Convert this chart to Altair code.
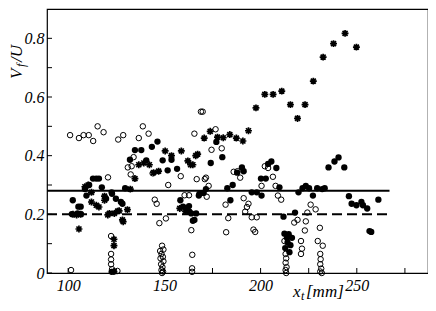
import altair as alt
import pandas as pd

# ---- data ----
open_x = [101, 105.6, 108, 110.7, 113, 115.3, 118.4, 126, 128.6, 136.7, 138.8, 141.8, 134, 165.6, 169, 174.5, 176.6,
          143.9, 152, 158.5, 171, 145, 160.5, 162.8,
          120.7, 131, 132.5, 146, 147.4, 150.8, 164, 164.5, 164.4, 164.4, 166.8, 172, 173,
          122.3, 122.3, 122.3, 122.3, 122.8, 125.6, 101.5,
          148.8, 149.5, 147.8, 148.5, 149.2, 148, 149.5, 148.3, 149, 148.5, 149.3, 148.8,
          186, 188, 189.4, 181.8, 183.2, 182.1, 191.2, 193.7, 192.9, 192, 195.4, 198, 196.3, 197.2,
          200.5, 203.9, 206.4, 207.8, 209, 210.7, 217.5, 219.2, 223.5, 224.3, 226, 228.6, 223, 230.8,
          212.4, 221, 221.5, 221, 229.7, 231, 231.2, 231, 231.5, 231, 231.8,
          213, 213.3, 213, 213.5, 213, 213.3, 232.3, 179.8, 171.6, 202.2, 169.9, 133]
open_y = [0.47, 0.46, 0.47, 0.47, 0.45, 0.50, 0.48, 0.455, 0.47, 0.46, 0.50, 0.475, 0.395, 0.475, 0.55, 0.42, 0.49,
          0.34, 0.30, 0.33, 0.32, 0.25, 0.265, 0.265,
          0.326, 0.36, 0.336, 0.236, 0.17, 0.186, 0.146, 0.062, 0.016, 0.004, 0.32, 0.26, 0.297,
          0.126, 0.065, 0.046, 0.03, 0.013, 0.007, 0.01,
          0.093, 0.08, 0.075, 0.065, 0.055, 0.05, 0.04, 0.03, 0.02, 0.01, 0.005, 0.0,
          0.345, 0.347, 0.325, 0.233, 0.187, 0.139, 0.255, 0.236, 0.225, 0.209, 0.19, 0.19, 0.148, 0.14,
          0.297, 0.358, 0.328, 0.297, 0.264, 0.25, 0.172, 0.181, 0.176, 0.206, 0.233, 0.217, 0.145, 0.154,
          0.109, 0.109, 0.083, 0.065, 0.109, 0.065, 0.047, 0.03, 0.015, 0.005, 0.0,
          0.065, 0.05, 0.035, 0.02, 0.01, 0.0, 0.093, 0.425, 0.325, 0.364, 0.55, 0.364]

filled_x = [102.4, 105.3, 106.5, 101.9, 104.9, 106.6, 108.7, 110.9, 109.5, 112.9, 114.6, 116, 117.5, 119.7, 122.8,
            124.8, 128.2, 129.6, 127.4, 122.6, 132.1, 134.7, 138, 143.5, 146.4, 140.6, 149.1, 151.7, 153.7,
            156.6, 158.3, 162.8, 164, 164.8, 166.5, 167.9, 170.4, 174.1, 168.2, 122.6,
            159.7, 161.4, 163, 165.6,
            177, 180.1, 187.8, 190.3, 191.2, 200.2, 203.9, 205.6, 185.5, 182.7, 171.6, 195.4, 198, 200.5,
            184.3, 209.8, 202.7, 208.2, 211.9, 217.9, 219.7, 221.8, 223.5, 225.2, 227.2, 229.4, 232, 233.3,
            235.3, 238.4, 240.5, 243.5, 245.9, 247.3, 249.8, 252.4, 253.2, 255.4, 261.2, 256.6, 257.5,
            212.4, 214.6, 216.3, 213.7, 214, 215.5, 215, 212.8]
filled_y = [0.248, 0.226, 0.226, 0.201, 0.203, 0.201, 0.286, 0.30, 0.264, 0.322, 0.322, 0.322, 0.292, 0.253, 0.27,
            0.253, 0.236, 0.289, 0.242, 0.275, 0.386, 0.419, 0.419, 0.43, 0.448, 0.384, 0.384, 0.35, 0.386,
            0.355, 0.248, 0.228, 0.203, 0.178, 0.203, 0.264, 0.273, 0.375, 0.27, 0.004,
            0.226, 0.22, 0.209, 0.181,
            0.447, 0.395, 0.342, 0.36, 0.347, 0.322, 0.372, 0.38, 0.30, 0.289, 0.286, 0.275, 0.275, 0.264,
            0.248, 0.292, 0.322, 0.358, 0.192, 0.206, 0.275, 0.289, 0.297, 0.289, 0.264, 0.289, 0.286, 0.289,
            0.36, 0.38, 0.394, 0.36, 0.262, 0.236, 0.231, 0.242, 0.231, 0.22, 0.25, 0.143, 0.14,
            0.134, 0.132, 0.12, 0.12, 0.104, 0.095, 0.071, 0.085]

star_x = [243.9, 237.9, 249.8, 232.5, 227.4, 202.2, 206.5, 211, 197.6, 215.5, 223.1, 219.2, 193.7, 173.8, 177.6,
          180.6, 184, 187.4, 190.8, 170.7, 167.3, 162.2, 164.8, 150.4, 153.7, 158.8, 136.7, 139.3, 142.2, 144.4,
          147, 134.7, 132.3, 104.4, 102.5, 106.5, 105.6, 108.7, 110.4, 112.1, 112.1, 114.6, 116, 118.9, 118.9,
          120.6, 121.4, 124, 125.7, 126.5, 128.2, 128.6, 130.8, 123.8, 123.8, 158, 161, 163.6, 166.3, 123.8]
star_y = [0.817, 0.782, 0.77, 0.736, 0.654, 0.609, 0.609, 0.62, 0.563, 0.574, 0.574, 0.527, 0.485, 0.483, 0.463,
          0.461, 0.472, 0.46, 0.45, 0.46, 0.405, 0.382, 0.369, 0.416, 0.40, 0.416, 0.369, 0.375, 0.369, 0.342,
          0.347, 0.322, 0.286, 0.198, 0.20, 0.20, 0.15, 0.294, 0.30, 0.275, 0.242, 0.231, 0.225, 0.262, 0.248,
          0.198, 0.203, 0.203, 0.211, 0.212, 0.181, 0.175, 0.216, 0.115, 0.093, 0.22, 0.21, 0.369, 0.40, 0.005]

ref_levels = [0.28, 0.20]
ref_styles = ["solid", "dashed"]
ref_x_start, ref_x_end = 89, 267

x_ticks_major = [100, 150, 200, 250]
x_ticks_all = [100, 125, 150, 175, 200, 225, 250, 275]
y_ticks_major = [0, 0.2, 0.4, 0.6, 0.8]
y_ticks_all = [0, 0.1, 0.2, 0.3, 0.4, 0.5, 0.6, 0.7, 0.8]

X_DOMAIN = [89, 287]
Y_DOMAIN = [0, 0.9]
W, H = 381, 264
FONT = "Times New Roman"

xs = alt.Scale(domain=X_DOMAIN, nice=False, zero=False)
ys = alt.Scale(domain=Y_DOMAIN, nice=False, zero=False)

x_axis = alt.Axis(values=x_ticks_major, ticks=False, domain=False, grid=False, title=None,
                  labelFont=FONT, labelFontStyle="italic", labelFontSize=16, labelColor="black", labelPadding=4)
y_axis = alt.Axis(values=y_ticks_major, ticks=False, domain=False, grid=False, title=None,
                  labelFont=FONT, labelFontStyle="italic", labelFontSize=16, labelColor="black", labelPadding=3,
                  labelExpr="datum.value == 0 ? '0' : format(datum.value, '.1f')")

df_open = pd.DataFrame({"x": open_x, "y": open_y})
df_filled = pd.DataFrame({"x": filled_x, "y": filled_y})
df_star = pd.DataFrame({"x": star_x, "y": star_y})

base_enc = dict(x=alt.X("x:Q", scale=xs, axis=x_axis), y=alt.Y("y:Q", scale=ys, axis=y_axis))

open_layer = alt.Chart(df_open).mark_point(shape="circle", filled=False, stroke="black", strokeWidth=1,
                                           size=30, opacity=1).encode(**base_enc)
filled_layer = alt.Chart(df_filled).mark_point(shape="circle", filled=True, fill="black", size=40,
                                               opacity=1).encode(**base_enc)
ASTER = "M-1,0L1,0M0,-1L0,1M-0.72,-0.72L0.72,0.72M-0.72,0.72L0.72,-0.72"
star_layer = alt.Chart(df_star).mark_point(shape=ASTER, filled=False, stroke="black", strokeWidth=1.7,
                                           size=48, opacity=1).encode(**base_enc)

df_ref = pd.DataFrame({"y": ref_levels, "style": ref_styles,
                       "x": [ref_x_start] * 2, "x2": [ref_x_end] * 2})
solid_line = alt.Chart(df_ref[df_ref["style"] == "solid"]).mark_rule(color="black", strokeWidth=2).encode(
    x=alt.X("x:Q", scale=xs), x2="x2:Q", y=alt.Y("y:Q", scale=ys))
dashed_line = alt.Chart(df_ref[df_ref["style"] == "dashed"]).mark_rule(
    color="black", strokeWidth=2, strokeDash=[10, 5]).encode(
    x=alt.X("x:Q", scale=xs), x2="x2:Q", y=alt.Y("y:Q", scale=ys))

xt = alt.Chart(pd.DataFrame({"t": x_ticks_all})).mark_rule(color="black", strokeWidth=1).encode(
    x=alt.X("t:Q", scale=xs), y=alt.value(H), y2=alt.value(H - 5))
yt = alt.Chart(pd.DataFrame({"t": y_ticks_all})).mark_rule(color="black", strokeWidth=1).encode(
    y=alt.Y("t:Q", scale=ys), x=alt.value(0), x2=alt.value(5))

def txt(text, x, y, size, angle=0, baseline="alphabetic"):
    kw = dict(text=text, font=FONT, fontStyle="italic", fontSize=size, color="black",
              align="left", baseline=baseline)
    if angle:
        kw["angle"] = angle
    return alt.Chart(pd.DataFrame({"d": [0]})).mark_text(**kw).encode(x=alt.value(x), y=alt.value(y))

titles = [
    txt("V", -25, 70, 17, angle=270),
    txt("f", -22, 58, 12, angle=270),
    txt("/U", -25, 53, 17, angle=270),
    txt("x", 246, 288, 17),
    txt("t", 254, 291, 12),
    txt("[mm]", 259, 288, 17),
]

chart = alt.layer(solid_line, dashed_line, xt, yt, open_layer, filled_layer, star_layer, *titles).properties(
    width=W, height=H,
    autosize=alt.AutoSizeParams(type="none"),
    padding={"left": 39, "top": 1, "right": 0, "bottom": 30},
).configure_view(stroke="black", strokeWidth=1.2)

chart.save("out.html", embed_options={"renderer": "svg", "actions": False})
